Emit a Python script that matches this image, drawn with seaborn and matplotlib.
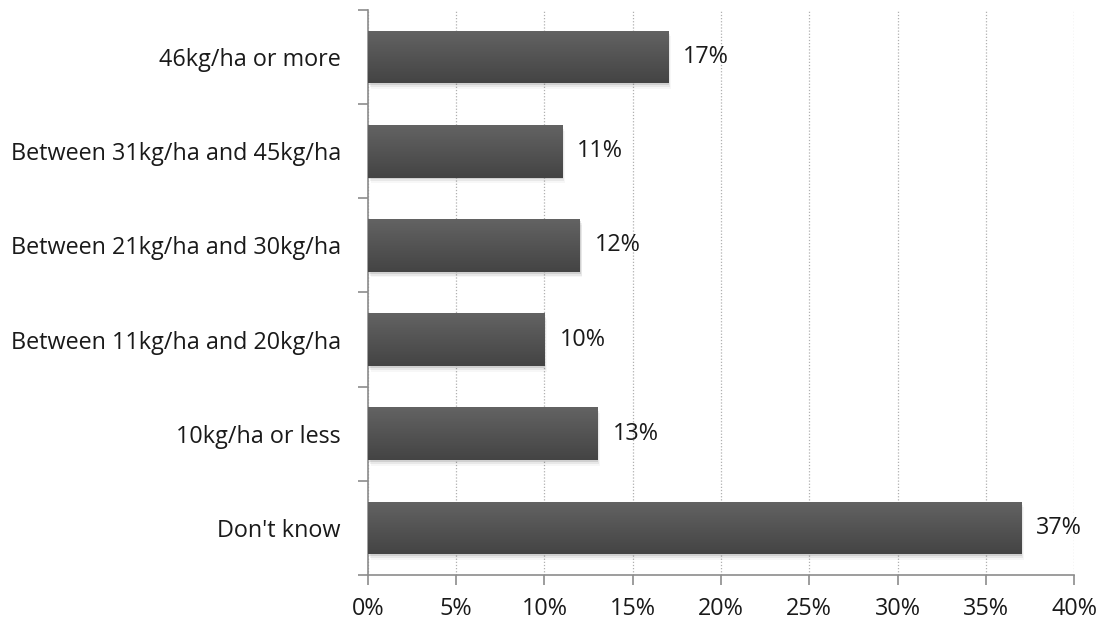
import matplotlib
matplotlib.use("Agg")
import matplotlib.pyplot as plt
import seaborn as sns
import pandas as pd
import numpy as np
from matplotlib.ticker import FixedLocator
from matplotlib.colors import LinearSegmentedColormap

# Chart data
categories = [
    "46kg/ha or more",
    "Between 31kg/ha and 45kg/ha",
    "Between 21kg/ha and 30kg/ha",
    "Between 11kg/ha and 20kg/ha",
    "10kg/ha or less",
    "Don't know",
]
shares = [17, 11, 12, 10, 13, 37]
x_ticks = [0, 5, 10, 15, 20, 25, 30, 35, 40]

df = pd.DataFrame({"Category": categories, "Share": shares})

sns.set_style("white")
plt.rcParams["font.family"] = ["Open Sans", "DejaVu Sans"]

fig = plt.figure(figsize=(11.05, 6.23), dpi=100)
ax = fig.add_axes([0.333, 0.077, 0.639, 0.907])

axis_grey = "#8c8c8c"
text_color = "#1a1a1a"
font_size = 16.8

# Gridlines behind the bars
ax.set_axisbelow(True)
ax.grid(axis="x", linestyle=(0, (1, 1.5)), color="#b0b0b0", linewidth=0.9)
ax.grid(axis="y", visible=False)

sns.barplot(data=df, x="Share", y="Category", orient="h", color="#525252",
            saturation=1, width=0.56, linewidth=0, ax=ax, zorder=3)

bars = list(ax.patches)

# Vertical gradient on each bar (lighter top, darker bottom) plus a soft shadow
grad_cmap = LinearSegmentedColormap.from_list("bar", ["#636363", "#444444"])
for patch in bars:
    x0, y0 = patch.get_x(), patch.get_y()
    w, h = patch.get_width(), patch.get_height()
    img = ax.imshow(np.linspace(0, 1, 64).reshape(-1, 1), cmap=grad_cmap, aspect="auto",
                    extent=(x0, x0 + w, y0 + h, y0), zorder=3.5, interpolation="bilinear")
    img.set_clip_path(patch)
    for i, a in enumerate([0.10, 0.06, 0.03]):
        sh = plt.Rectangle((x0 + 0.05 * (i + 1), y0 + 0.02 * (i + 1)), w, h,
                           color="black", alpha=a, zorder=2, linewidth=0)
        ax.add_patch(sh)

# Value labels
for patch, val in zip(bars, shares):
    ax.text(patch.get_width() + 0.85, patch.get_y() + patch.get_height() / 2,
            f"{val}%", va="center", ha="left", fontsize=font_size, color=text_color)

ax.set_xlim(0, 40)
ax.set_ylim(len(categories) - 0.5, -0.5)
ax.xaxis.set_major_locator(FixedLocator(x_ticks))
ax.set_xticklabels([f"{t}%" for t in x_ticks])

# Category ticks sit at the boundaries between bars
ax.yaxis.set_minor_locator(FixedLocator(np.arange(-0.5, len(categories), 1)))
ax.tick_params(axis="y", which="major", length=0, pad=19.5, labelsize=font_size, labelcolor=text_color)
ax.tick_params(axis="y", which="minor", left=True, length=7, width=1.2, color=axis_grey)
ax.tick_params(axis="x", which="major", bottom=True, length=7, width=1.2, color=axis_grey,
               pad=9, labelsize=font_size, labelcolor=text_color)

ax.set_xlabel("")
ax.set_ylabel("")

for side in ["top", "right"]:
    ax.spines[side].set_visible(False)
for side in ["left", "bottom"]:
    ax.spines[side].set_color(axis_grey)
    ax.spines[side].set_linewidth(1.2)

fig.savefig("out.png", dpi=100)
plt.close(fig)
